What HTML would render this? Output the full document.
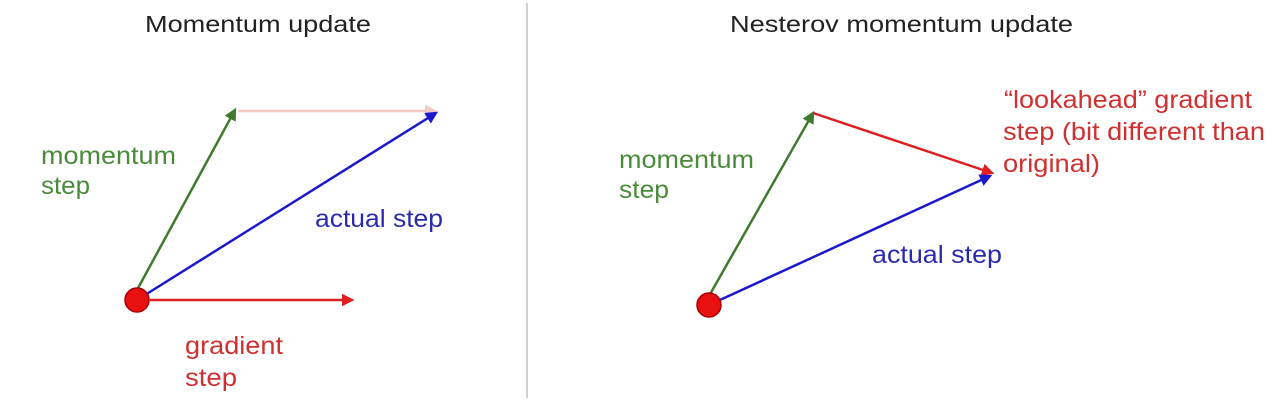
<!DOCTYPE html>
<html><head><meta charset="utf-8"><style>
html,body{margin:0;padding:0;background:#fff;}
svg{display:block;font-family:"Liberation Sans",Arial,sans-serif;}
</style></head><body>
<svg id="diag" width="1283" height="400" viewBox="0 0 1283 400">
<defs>
<marker id="ag" markerWidth="5" markerHeight="5" refX="4" refY="2.5" orient="auto" markerUnits="strokeWidth"><path d="M0,0 L5,2.5 L0,5z" fill="#3f7a2f"/></marker>
<marker id="ab" markerWidth="5" markerHeight="5" refX="4" refY="2.5" orient="auto" markerUnits="strokeWidth"><path d="M0,0 L5,2.5 L0,5z" fill="#1a1acc"/></marker>
<marker id="ar" markerWidth="5" markerHeight="5" refX="4" refY="2.5" orient="auto" markerUnits="strokeWidth"><path d="M0,0 L5,2.5 L0,5z" fill="#e02020"/></marker>
<marker id="ap" markerWidth="5" markerHeight="5" refX="4" refY="2.5" orient="auto" markerUnits="strokeWidth"><path d="M0,0 L5,2.5 L0,5z" fill="#f6c8c8"/></marker>
</defs>
<line x1="527" y1="3" x2="527" y2="398" stroke="#b0b0b0" stroke-width="1.2"/>
<text x="145" y="32" font-size="23" textLength="226" lengthAdjust="spacingAndGlyphs" fill="#222">Momentum update</text>
<text x="730" y="32" font-size="23" textLength="343" lengthAdjust="spacingAndGlyphs" fill="#222">Nesterov momentum update</text>
<g id="arrows"></g>
<circle cx="137" cy="300" r="12" fill="#e81010" stroke="#a00" stroke-width="1.5"/>
<circle cx="709" cy="305" r="12" fill="#e81010" stroke="#a00" stroke-width="1.5"/>
<g font-size="25">
<g fill="#4a8a3a">
<text x="41" y="164" textLength="135" lengthAdjust="spacingAndGlyphs">momentum</text>
<text x="41" y="194" textLength="49" lengthAdjust="spacingAndGlyphs">step</text>
</g>
<text x="315" y="227" textLength="128" lengthAdjust="spacingAndGlyphs" fill="#2a2ab0">actual step</text>
<g fill="#d03030">
<text x="185" y="354" textLength="98" lengthAdjust="spacingAndGlyphs">gradient</text>
<text x="185" y="386" textLength="52" lengthAdjust="spacingAndGlyphs">step</text>
</g>
<g fill="#4a8a3a">
<text x="619" y="168" textLength="135" lengthAdjust="spacingAndGlyphs">momentum</text>
<text x="619" y="198" textLength="50" lengthAdjust="spacingAndGlyphs">step</text>
</g>
<text x="872" y="263" textLength="130" lengthAdjust="spacingAndGlyphs" fill="#2a2ab0">actual step</text>
<g fill="#d03030">
<text x="1004" y="108" textLength="248" lengthAdjust="spacingAndGlyphs">“lookahead” gradient</text>
<text x="1003" y="140" textLength="262" lengthAdjust="spacingAndGlyphs">step (bit different than</text>
<text x="1003" y="172" textLength="97" lengthAdjust="spacingAndGlyphs">original)</text>
</g>
</g>
</svg>
<script>
const arrowNames = ["left-momentum-arrow","left-ghost-arrow","left-actual-arrow","left-gradient-arrow","right-momentum-arrow","right-lookahead-arrow","right-actual-arrow"];
const arrowStartX = [137, 238, 137, 150, 709, 813, 709];
const arrowStartY = [290, 111, 300, 300, 296, 113, 305];
const arrowEndX = [235, 435, 436, 352, 813, 992, 990];
const arrowEndY = [110, 111, 113, 300, 113, 173, 176];
const arrowColors = ["#3f7a2f","#f6c8c8","#1a1acc","#e02020","#3f7a2f","#e02020","#1a1acc"];
const arrowMarkers = ["ag","ap","ab","ar","ag","ar","ab"];
const g = document.getElementById('arrows');
for (let i = 0; i < arrowNames.length; i++) {
  const l = document.createElementNS('http://www.w3.org/2000/svg','line');
  l.setAttribute('x1', arrowStartX[i]);
  l.setAttribute('y1', arrowStartY[i]);
  l.setAttribute('x2', arrowEndX[i]);
  l.setAttribute('y2', arrowEndY[i]);
  l.setAttribute('stroke', arrowColors[i]);
  l.setAttribute('stroke-width', '2.5');
  l.setAttribute('marker-end', 'url(#' + arrowMarkers[i] + ')');
  
  
  g.appendChild(l);
}
</script>
</body></html>
